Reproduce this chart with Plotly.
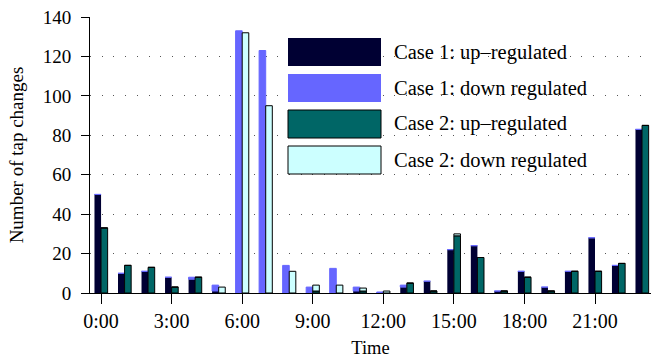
import plotly.graph_objects as go

hours = list(range(24))
tick_vals = [0, 3, 6, 9, 12, 15, 18, 21]
tick_text = ["0:00", "3:00", "6:00", "9:00", "12:00", "15:00", "18:00", "21:00"]

case1_up = [50, 10, 11, 8, 7, 1, 0, 0, 0, 0, 0, 1, 0, 3, 6, 22, 24, 1, 11, 3, 11, 28, 14, 83]
case1_down = [0, 0, 0, 0, 1, 3, 133, 123, 14, 3, 12.5, 2, 0.5, 1, 0, 0, 0, 0, 0, 0, 0, 0, 0, 0]
case2_up = [33, 14, 13, 3, 8, 0, 0, 0, 0, 1, 0, 1, 0, 5, 1, 29, 18, 1, 8, 1, 11, 11, 15, 85]
case2_down = [0, 0, 0, 0, 0, 3, 132, 95, 11, 3, 4, 1.5, 1, 0, 0, 1, 0, 0, 0, 0, 0, 0, 0, 0]

legend_names = ["Case 1: up\u2013regulated", "Case 1: down regulated",
                "Case 2: up\u2013regulated", "Case 2: down regulated"]
colors = ["#000033", "#6666ff", "#006666", "#ccffff"]

FONT = "Liberation Serif, Times New Roman, serif"
W, H = 653, 358
ML, MR, MT, MB = 90, 2, 17, 65

fig = go.Figure()
fig.add_bar(x=hours, y=case1_up, offsetgroup="c1", marker=dict(color=colors[0], line=dict(width=0)),
            name=legend_names[0], showlegend=False)
fig.add_bar(x=hours, y=case1_down, base=case1_up, offsetgroup="c1",
            marker=dict(color=colors[1], line=dict(color=colors[1], width=1)),
            name=legend_names[1], showlegend=False)
fig.add_bar(x=hours, y=case2_up, offsetgroup="c2", marker=dict(color=colors[2], line=dict(color="black", width=1)),
            name=legend_names[2], showlegend=False)
fig.add_bar(x=hours, y=case2_down, base=case2_up, offsetgroup="c2",
            marker=dict(color=colors[3], line=dict(color="black", width=1)),
            name=legend_names[3], showlegend=False)

pw = W - ML - MR
ph = H - MT - MB


def px_x(v):
    return (v - ML) / pw


def px_y(v):
    return (H - MB - v) / ph


shapes = []
annotations = []
sw_x0, sw_x1 = 288, 381
for i, name in enumerate(legend_names):
    top = 38 + i * 36
    bot = top + 28
    line = dict(color="black", width=1) if i >= 2 else dict(width=0)
    shapes.append(dict(type="rect", xref="paper", yref="paper",
                       x0=px_x(sw_x0), x1=px_x(sw_x1), y0=px_y(bot), y1=px_y(top),
                       fillcolor=colors[i], line=line, layer="above"))
    annotations.append(dict(xref="paper", yref="paper", x=px_x(392), y=px_y((top + bot) / 2),
                            xanchor="left", yanchor="middle", text=name, showarrow=False,
                            font=dict(family=FONT, size=20.5, color="black")))

fig.update_layout(
    width=W, height=H,
    margin=dict(l=ML, r=MR, t=MT, b=MB),
    paper_bgcolor="white", plot_bgcolor="white",
    barmode="group", bargap=0.44, bargroupgap=0,
    font=dict(family=FONT, size=20, color="black"),
    shapes=shapes, annotations=annotations,
    xaxis=dict(range=[-0.47, 23.38], tickvals=tick_vals, ticktext=tick_text,
               showline=True, linecolor="black", linewidth=1, ticks="outside", ticklen=10,
               tickcolor="black", showgrid=False, zeroline=False, automargin=False,
               tickfont=dict(size=20),
               title=dict(text="Time", font=dict(size=18.5), standoff=10)),
    yaxis=dict(range=[0, 140], tickvals=[0, 20, 40, 60, 80, 100, 120, 140],
               showline=True, linecolor="black", linewidth=1, ticks="outside", ticklen=8,
               tickcolor="black", showgrid=True, gridcolor="#555", gridwidth=1,
               griddash="1px,10.7px", zeroline=False, automargin=False,
               tickfont=dict(size=19), ticklabelstandoff=6,
               title=dict(text="Number of tap changes", font=dict(size=19), standoff=14)),
)

fig.write_html("out.html", config={"displayModeBar": False},
               post_script="document.body.style.margin='0px';")
